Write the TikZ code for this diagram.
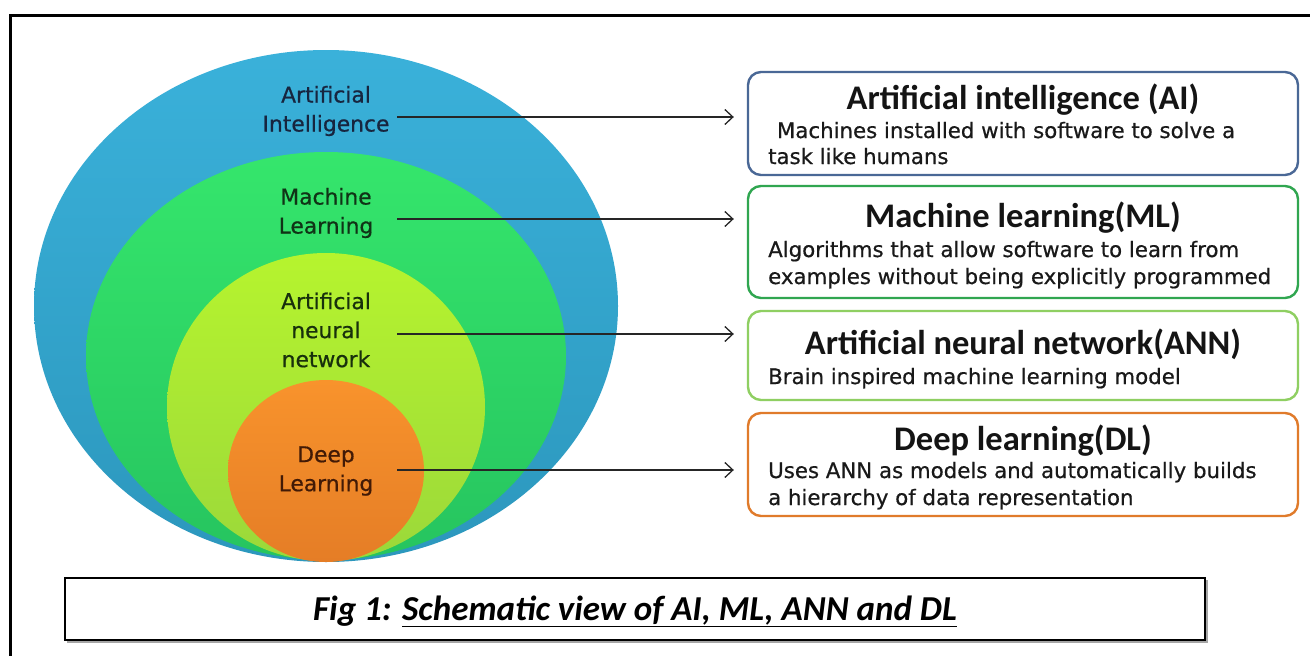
\documentclass[tikz,border=0pt]{standalone}
\usepackage{fontspec}
\setmainfont{DejaVu Sans}
\newfontfamily\headfont{Carlito}
\newfontfamily\handfont[FakeBold=0.6]{DejaVu Sans}
\usetikzlibrary{arrows.meta,shapes.geometric}

\definecolor{aiBlueT}{HTML}{3AB1DA}
\definecolor{aiBlueB}{HTML}{2C97BD}
\definecolor{mlGreenT}{HTML}{35E66C}
\definecolor{mlGreenB}{HTML}{26C45F}
\definecolor{annLimeT}{HTML}{B6F42E}
\definecolor{annLimeB}{HTML}{9BD83A}
\definecolor{dlOrangeT}{HTML}{F8932C}
\definecolor{dlOrangeB}{HTML}{E57D26}
\definecolor{aiEdge}{HTML}{4A6896}
\definecolor{mlEdge}{HTML}{30A650}
\definecolor{annEdge}{HTML}{8FCF62}
\definecolor{dlEdge}{HTML}{E07B2B}
\definecolor{aiInk}{HTML}{17253F}
\definecolor{mlInk}{HTML}{103316}
\definecolor{annInk}{HTML}{18300C}
\definecolor{dlInk}{HTML}{421A06}

\tikzset{
  layer/.style={ellipse, inner sep=0pt},
  ringlabel/.style={align=center, font=\handfont\fontsize{21.8}{29}\selectfont},
  infobox/.style={draw, line width=2.4pt, rounded corners=13pt,
                  minimum width=550pt, fill=white},
  boxtitle/.style={anchor=base, font=\headfont\bfseries\fontsize{34.5}{38}\selectfont, text=black!92},
  boxtext/.style={anchor=base west, inner sep=0pt,
                  font=\handfont\fontsize{21.3}{27}\selectfont, text=black!90},
  link/.style={-{Straight Barb[length=8pt,width=15pt,line width=1.3pt]},
               line width=1.3pt, black!85}
}

\begin{document}
\begin{tikzpicture}[x=1pt,y=-1pt]
\useasboundingbox (0,0) rectangle (1310,656);
\fill[white] (0,0) rectangle (1310,656);

% outer frame (only top and left edges fall inside the page)
\draw[line width=3pt] (10,670) -- (10,15) -- (1320,15);

% nested layers
\node[layer, minimum width=584pt, minimum height=512pt,
      top color=aiBlueT, bottom color=aiBlueB] (ellAI) at (326,306) {};
\node[layer, minimum width=480pt, minimum height=408pt,
      top color=mlGreenT, bottom color=mlGreenB] (ellML) at (326,356) {};
\node[layer, minimum width=318pt, minimum height=308pt,
      top color=annLimeT, bottom color=annLimeB] (ellANN) at (326,407) {};
\node[layer, minimum width=196pt, minimum height=182pt,
      top color=dlOrangeT, bottom color=dlOrangeB] (ellDL) at (326,471) {};

% layer labels
\node[ringlabel, text=aiInk]  (lblAI)  at (326,111) {Artificial\\Intelligence};
\node[ringlabel, text=mlInk]  (lblML)  at (326,213) {Machine\\Learning};
\node[ringlabel, text=annInk] (lblANN) at (326,330) {Artificial\\neural\\network};
\node[ringlabel, text=dlInk]  (lblDL)  at (326,471) {Deep\\Learning};

% description boxes
\node[infobox, draw=aiEdge,  minimum height=103pt] (boxAI)  at (1023,123.5) {};
\node[infobox, draw=mlEdge,  minimum height=112pt] (boxML)  at (1023,242) {};
\node[infobox, draw=annEdge, minimum height=89pt]  (boxANN) at (1023,355.5) {};
\node[infobox, draw=dlEdge,  minimum height=103pt] (boxDL)  at (1023,464.5) {};

\node[boxtitle] (tAI)  at (1023,109) {Artificial intelligence (AI)};
\node[boxtext]  (dAI1) at (770,138) {\ Machines installed with software to solve a};
\node[boxtext]  (dAI2) at (768,164) {task like humans};

\node[boxtitle] (tML)  at (1023,227) {Machine learning(ML)};
\node[boxtext]  (dML1) at (768,257) {Algorithms that allow software to learn from};
\node[boxtext]  (dML2) at (768,284) {examples without being explicitly programmed};

\node[boxtitle] (tANN) at (1023,354) {Artificial neural network(ANN)};
\node[boxtext]  (dANN) at (768,384) {Brain inspired machine learning model};

\node[boxtitle] (tDL)  at (1023,450) {Deep learning(DL)};
\node[boxtext]  (dDL1) at (768,478) {Uses ANN as models and automatically builds};
\node[boxtext]  (dDL2) at (768,505) {a hierarchy of data representation};

% connectors from the layers to their boxes
\coordinate (sAI)  at (397,117);
\coordinate (sML)  at (397,219);
\coordinate (sANN) at (397,334);
\coordinate (sDL)  at (397,470);
\draw[link, shorten >=13pt] (sAI)  -- (sAI  -| boxAI.west);
\draw[link, shorten >=13pt] (sML)  -- (sML  -| boxML.west);
\draw[link, shorten >=13pt] (sANN) -- (sANN -| boxANN.west);
\draw[link, shorten >=13pt] (sDL)  -- (sDL  -| boxDL.west);

% caption
\draw[black!35, line width=2pt] (67,642) -- (1207,642) -- (1207,580);
\node[draw, line width=2.6pt, minimum width=1140pt, minimum height=62pt,
      fill=white] (capBox) at (635,609) {};
\node[anchor=base, font=\headfont\bfseries\itshape\fontsize{35}{38}\selectfont]
  (capText) at (635,620) {Fig 1: \underline{Schematic view of AI, ML, ANN and DL}};
\end{tikzpicture}
\end{document}
